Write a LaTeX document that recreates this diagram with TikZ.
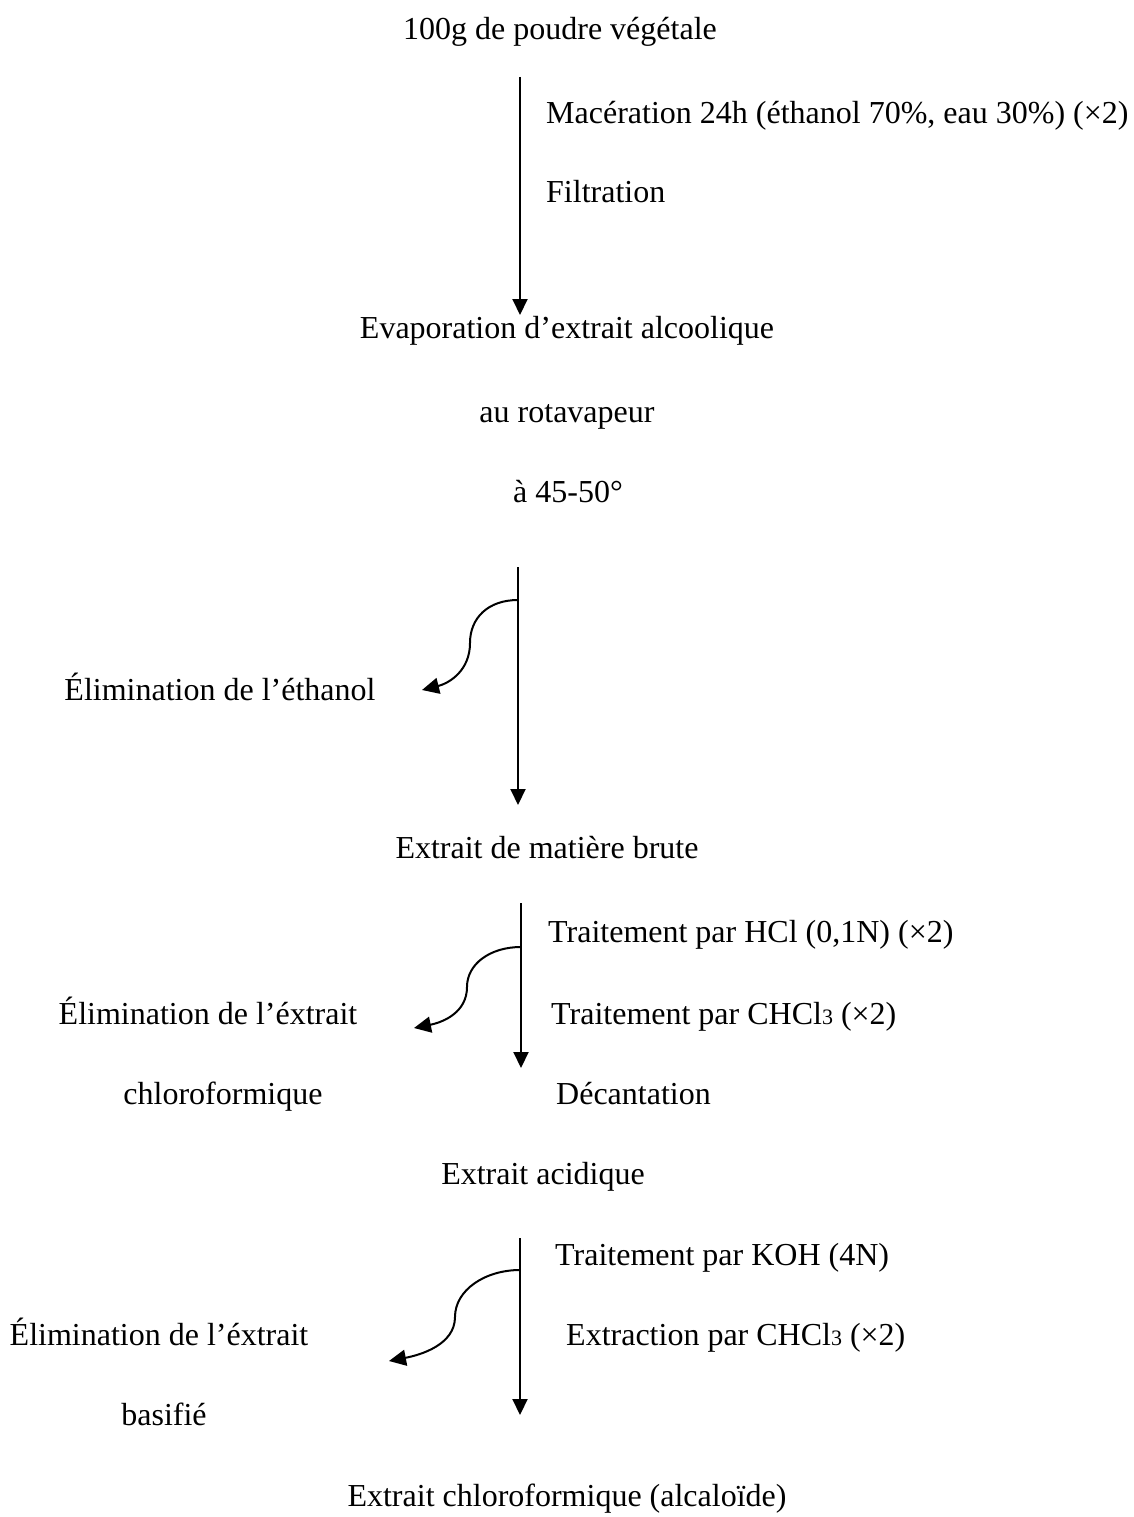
\documentclass[tikz,border=0pt]{standalone}
\usepackage{fontspec}
\setmainfont{Liberation Serif}
\usetikzlibrary{arrows.meta}
\begin{document}
\begin{tikzpicture}[x=1pt,y=-1pt,
  txt/.style={inner sep=0pt,anchor=base,font=\fontsize{32}{38}\selectfont},
  ltxt/.style={txt,anchor=base west},
  flow/.style={line width=2pt,-{Triangle[width=15pt,length=16pt]}},
  side/.style={line width=2pt,-{Triangle[width=16pt,length=17pt]}}]
\useasboundingbox (0,0) rectangle (1134,1517);
% texts
\node[txt] (t0) at (560,40) {100g de poudre végétale};
\node[ltxt] (m1) at (546,124) {Macération 24h (éthanol 70\%, eau 30\%) (×2)};
\node[ltxt] (m2) at (546,203) {Filtration};
\node[txt] (t1) at (567,338) {Evaporation d’extrait alcoolique};
\node[txt] (t1b) at (567,422) {au rotavapeur};
\node[txt] (t1c) at (568,502) {à 45-50°};
\node[txt] (e1) at (220,700) {Élimination de l’éthanol};
\node[txt] (t2) at (547,858) {Extrait de matière brute};
\node[ltxt] (h1) at (548,942) {Traitement par HCl (0,1N) (×2)};
\node[ltxt] (h2) at (551,1024) {Traitement par CHCl{\fontsize{22}{26}\selectfont 3} (×2)};
\node[ltxt] (h3) at (556,1104) {Décantation};
\node[txt] (e2) at (208,1024) {Élimination de l’éxtrait};
\node[txt] (e2b) at (223,1104) {chloroformique};
\node[txt] (t3) at (543,1184) {Extrait acidique};
\node[ltxt] (k1) at (555,1265) {Traitement par KOH (4N)};
\node[ltxt] (k2) at (566,1345) {Extraction par CHCl{\fontsize{22}{26}\selectfont 3} (×2)};
\node[txt] (e3) at (159,1345) {Élimination de l’éxtrait};
\node[txt] (e3b) at (164,1425) {basifié};
\node[txt] (t4) at (567,1506) {Extrait chloroformique (alcaloïde)};
% main arrows
\coordinate (a1s) at (520,77);  \coordinate (a1e) at (520,315);
\coordinate (a2s) at (518,567); \coordinate (a2e) at (518,805);
\coordinate (a3s) at (521,903); \coordinate (a3e) at (521,1068);
\coordinate (a4s) at (520,1238); \coordinate (a4e) at (520,1415);
\draw[flow] (a1s) -- (a1e);
\draw[flow] (a2s) -- (a2e);
\draw[flow] (a3s) -- (a3e);
\draw[flow] (a4s) -- (a4e);
% side arrows
\coordinate (c1s) at (518,600); \coordinate (c1m) at (470,643); \coordinate (c1e) at (422,690);
\coordinate (c2s) at (521,947); \coordinate (c2m) at (467,987); \coordinate (c2e) at (414,1028);
\coordinate (c3s) at (520,1270); \coordinate (c3m) at (455,1317); \coordinate (c3e) at (389,1361);
\draw[side] (c1s) .. controls (488,600) and (470,618) .. (c1m) .. controls (470,670) and (450,683) .. (c1e);
\draw[side] (c2s) .. controls (490,947) and (467,964) .. (c2m) .. controls (467,1012) and (444,1022) .. (c2e);
\draw[side] (c3s) .. controls (485,1270) and (455,1290) .. (c3m) .. controls (455,1345) and (420,1355) .. (c3e);
\end{tikzpicture}
\end{document}
